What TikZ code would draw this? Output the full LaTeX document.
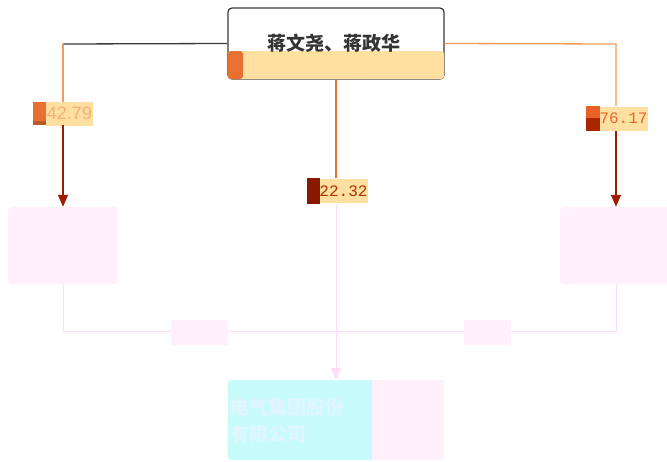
\documentclass[tikz,border=0pt]{standalone}
\usepackage{fontspec}
\newfontfamily\cjk{Noto Sans CJK SC}
\setmonofont{Liberation Mono}
\setsansfont{Liberation Sans}
\usetikzlibrary{arrows.meta, calc}

\definecolor{holderorange}{HTML}{E87030}
\definecolor{paleorange}{HTML}{FFE0A0}
\definecolor{linkorange}{HTML}{F59A55}
\definecolor{darkred}{HTML}{A01C00}
\definecolor{pinkfill}{HTML}{FFF0FC}
\definecolor{pinkline}{HTML}{FFDCF6}
\definecolor{cyanfill}{HTML}{C8FCFC}
\definecolor{edgegray}{HTML}{3A3A3A}

\tikzset{
  share/.style={fill=paleorange, minimum height=24, minimum width=47, inner sep=0pt},
  firm/.style={fill=pinkfill, rounded corners=4pt, minimum width=110, minimum height=77},
  headtip/.style={-{Triangle[length=12pt, width=10pt]}}
}

\begin{document}
\begin{tikzpicture}[x=1pt, y=-1pt]
        \useasboundingbox (0,0) rectangle (667,461);

        % Shareholder at the top
        \node[draw=edgegray, line width=1.3pt, rounded corners=4pt, minimum width=216, minimum height=71, inner sep=0pt] (top) at (336,43.5) {};
        \fill[paleorange, rounded corners=3pt] (228,51) rectangle (444,79);
        \fill[holderorange, rounded corners=3pt] (228,51) rectangle (243,79);
        \node[anchor=west, text=black!80, font=\cjk\bfseries\fontsize{19}{19}\selectfont, inner sep=0pt] (name) at (267,43) {蒋文尧、蒋政华};

        % Companies
        \node[firm] (left) at (63,245.5) {};
        \node[firm, minimum width=112] (right) at (616,245.5) {};
        \node[fill=cyanfill, rounded corners=3pt, minimum width=216, minimum height=80, inner sep=0pt] (bottom) at (336,420) {};
        \fill[pinkfill, rounded corners=3pt] (372,380) rectangle (444,460);
        \fill[pinkfill] (372,380) rectangle (380,460);
        \node[anchor=north west, align=left, text=white!88!cyan, font=\cjk\bfseries\fontsize{19}{27}\selectfont, inner sep=0pt] (bname) at (230,398) {电气集团股份\\有限公司};

        % Share labels
        \node[share, text=linkorange!80, font=\sffamily\fontsize{18}{18}\selectfont] (lab1) at (69.5,113.5) {42.79};
        \fill[holderorange] (33,102) rectangle (46,121);
        \fill[holderorange!80!black] (33,121) rectangle (46,125);
        \node[share, minimum width=45, text=holderorange!90!red, font=\ttfamily\fontsize{16}{16}\selectfont] (lab2) at (623.5,118.5) {76.17};
        \fill[holderorange!85!red] (586,106) rectangle (600,118);
        \fill[darkred!90!orange] (586,118) rectangle (600,131);
        \node[share, minimum width=45, text=darkred!80!orange, font=\ttfamily\fontsize{16}{16}\selectfont] (lab3) at (343.5,191) {22.32};
        \fill[darkred!85!black] (307,178) rectangle (320,204);

        % Holdings
        \coordinate (lbend) at (63,44);
        \coordinate (rbend) at (616,44);
        \draw[edgegray, line width=1.3pt] (top.west) -- (lbend);
        \draw[linkorange, line width=1.3pt] (lbend) -- (63,102);
        \draw[darkred, line width=1.3pt, headtip] (63,125) -- (left.north);
        \draw[linkorange, line width=1.3pt] (top.east) -- (rbend) -- (616,106);
        \draw[darkred, line width=1.3pt, headtip] (616,131) -- (right.north);
        \draw[holderorange, line width=1.3pt] (top.south) -- (336,178);
        \draw[pinkline, line width=0.9pt, headtip] (336,204) -- (bottom.north);

        % Link between the two companies
        \draw[pinkline, line width=0.9pt] (left.south) -- (63,331) -- (616,331) -- (right.south);
        \node[fill=pinkfill, minimum width=57, minimum height=25, inner sep=0pt] (tag1) at (199.5,332.5) {};
        \node[fill=pinkfill, minimum width=47, minimum height=25, inner sep=0pt] (tag2) at (487.5,332.5) {};
\end{tikzpicture}
\end{document}
